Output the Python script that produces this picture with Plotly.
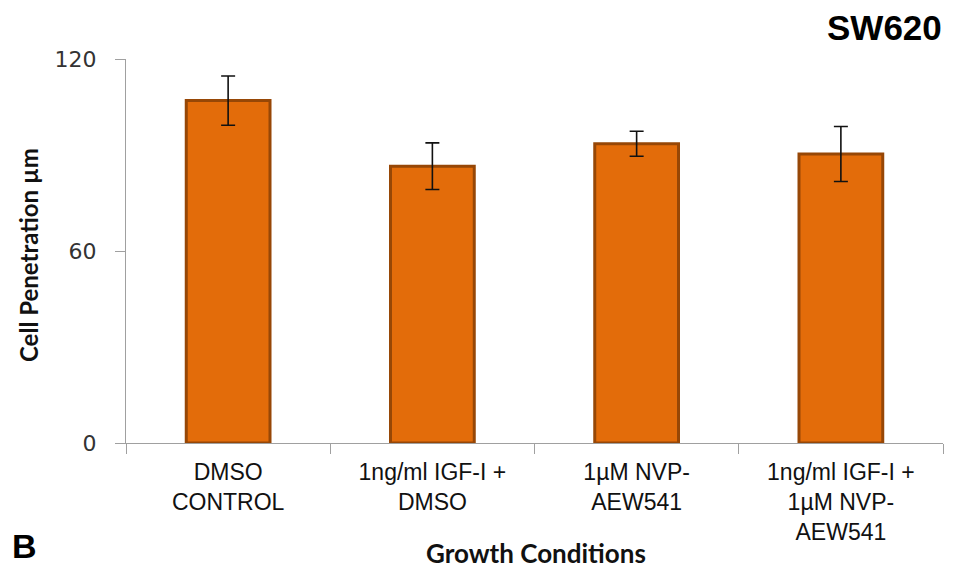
import plotly.graph_objects as go

categories = ["DMSO<br>CONTROL", "1ng/ml IGF-I +<br>DMSO", "1µM NVP-<br>AEW541", "1ng/ml IGF-I +<br>1µM NVP-<br>AEW541"]
values = [107.0, 86.5, 93.5, 90.3]
errors = [7.7, 7.3, 3.9, 8.6]
y_ticks = [0, 60, 120]

# the page body has an 8px margin, so the figure is sized to fit the 963x572 window
W, H = 955, 564
L, R, T, B = 118, 20, 51, 129
pw, ph = W - L - R, H - T - B

fig = go.Figure()
fig.add_trace(go.Bar(
    x=categories, y=values,
    marker=dict(color="#E36C0A", line=dict(color="#974706", width=3)),
    error_y=dict(type="data", array=errors, visible=True, color="#111111", thickness=1.6, width=7),
    width=0.41,
))

fig.update_layout(
    width=W, height=H,
    margin=dict(l=L, r=R, t=T, b=B),
    plot_bgcolor="white", paper_bgcolor="white",
    showlegend=False,
    xaxis=dict(
        showline=True, linecolor="#a0a0a0", linewidth=1.2,
        ticks="outside", tickson="boundaries", tickcolor="#a0a0a0", ticklen=10,
        ticklabelstandoff=8,
        tickfont=dict(family="Liberation Sans, Arial", size=23, color="#111111"),
    ),
    yaxis=dict(
        range=[0, 120], tickvals=y_ticks,
        showline=True, linecolor="#a0a0a0", linewidth=1.2,
        ticks="outside", tickcolor="#a0a0a0", ticklen=10,
        ticklabelstandoff=14,
        showgrid=False, zeroline=False,
        tickfont=dict(family="DejaVu Sans, Verdana", size=22, color="#333333"),
    ),
)

def px_x(page_x):
    return (page_x - 8 - L) / pw

def px_y(page_y):
    return (H - B - (page_y - 8)) / ph

fig.add_annotation(text="<b>Cell Penetration µm</b>", x=px_x(28), y=px_y(255), xref="paper", yref="paper",
                   textangle=-90, xanchor="center", yanchor="middle", showarrow=False,
                   font=dict(family="Lato, Open Sans", size=24, color="#111111"))
fig.add_annotation(text="<b>Growth Conditions</b>", x=px_x(536), y=px_y(553), xref="paper", yref="paper",
                   xanchor="center", yanchor="middle", showarrow=False,
                   font=dict(family="Lato, Open Sans", size=26, color="#111111"))
fig.add_annotation(text="<b>SW620</b>", x=px_x(944), y=px_y(27), xref="paper", yref="paper",
                   xanchor="right", yanchor="middle", showarrow=False,
                   font=dict(family="Liberation Sans, Arial", size=35, color="black"))
fig.add_annotation(text="<b>B</b>", x=px_x(10), y=px_y(546), xref="paper", yref="paper",
                   xanchor="left", yanchor="middle", showarrow=False,
                   font=dict(family="Liberation Sans, Arial", size=34, color="black"))

fig.write_html("out.html")
